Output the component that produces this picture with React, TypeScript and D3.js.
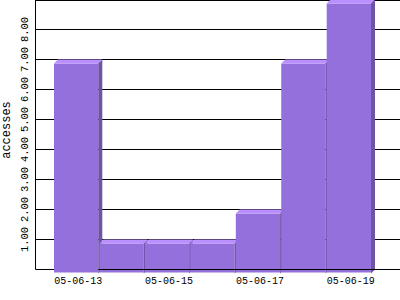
import React from "react";
import * as d3 from "d3";

const dates = ["05-06-13", "05-06-14", "05-06-15", "05-06-16", "05-06-17", "05-06-18", "05-06-19"];
const accesses = [7, 1, 1, 1, 2, 7, 9];
const yTicks = [1, 2, 3, 4, 5, 6, 7, 8];
const labelDates = ["05-06-13", "05-06-15", "05-06-17", "05-06-19"];
const yLabel = "accesses";

const W = 400;
const H = 300;
const left = 35.5;
const depth = 4;
const FRONT = "#9370DB";
const TOP = "#BB8FFF";
const SIDE = "#6F54A5";
const FONT = "'Liberation Mono', monospace";

export default function App() {
  const x = d3.scaleBand<string>().domain(dates).range([54, 54 + 7 * 45.45]).padding(0);
  const y = d3.scaleLinear().domain([0, 9]).range([269.5, -0.5]);
  const fw = x.step() - 1.15;
  const yb = y(0);

  const bars = dates.map((d, i) => {
    const x0 = x(d)!;
    const x1 = x0 + fw;
    const yt = y(accesses[i]);
    const top = [[x0, yt + depth], [x0 + depth, yt], [x1 + depth, yt], [x1, yt + depth]];
    const side = [[x1, yt + depth], [x1 + depth, yt], [x1 + depth, yb], [x1, yb + depth]];
    return (
      <g key={d}>
        <rect x={x0} y={yt + depth} width={fw} height={yb + depth - 1 - (yt + depth)} fill={FRONT} />
        <polygon points={top.map((p) => p.join(",")).join(" ")} fill={TOP} />
        <polygon points={side.map((p) => p.join(",")).join(" ")} fill={SIDE} />
      </g>
    );
  });

  const firstEnd = x(dates[0])! + fw;

  return (
    <svg width={W} height={H} style={{ position: "absolute", left: 0, top: 0, background: "#fff" }}>
      <rect x={0} y={0} width={W} height={H} fill="#fff" />
      {yTicks.map((t) => (
        <line key={t} x1={left} x2={W} y1={y(t)} y2={y(t)} stroke="#000" strokeWidth={1} />
      ))}
      <line x1={left} x2={W} y1={0.5} y2={0.5} stroke="#000" />
      <line x1={left} x2={left} y1={0} y2={yb} stroke="#000" />
      <line x1={left} x2={W} y1={yb} y2={yb} stroke="#000" />
      {bars}
      <line x1={firstEnd} x2={W} y1={yb} y2={yb} stroke="#000" />
      {yTicks.map((t) => (
        <text
          key={t}
          transform={`translate(27.5,${y(t)}) rotate(-90)`}
          textAnchor="middle"
          fontFamily={FONT}
          fontSize={10.5}
          fill="#000"
        >
          {t.toFixed(2)}
        </text>
      ))}
      {labelDates.map((d) => (
        <text key={d} x={x(d)! + fw / 2 + 2} y={284} textAnchor="middle" fontFamily={FONT} fontSize={10} fill="#000">
          {d}
        </text>
      ))}
      <text transform="translate(10,130) rotate(-90)" textAnchor="middle" fontFamily={FONT} fontSize={12} fill="#000">
        {yLabel}
      </text>
    </svg>
  );
}
